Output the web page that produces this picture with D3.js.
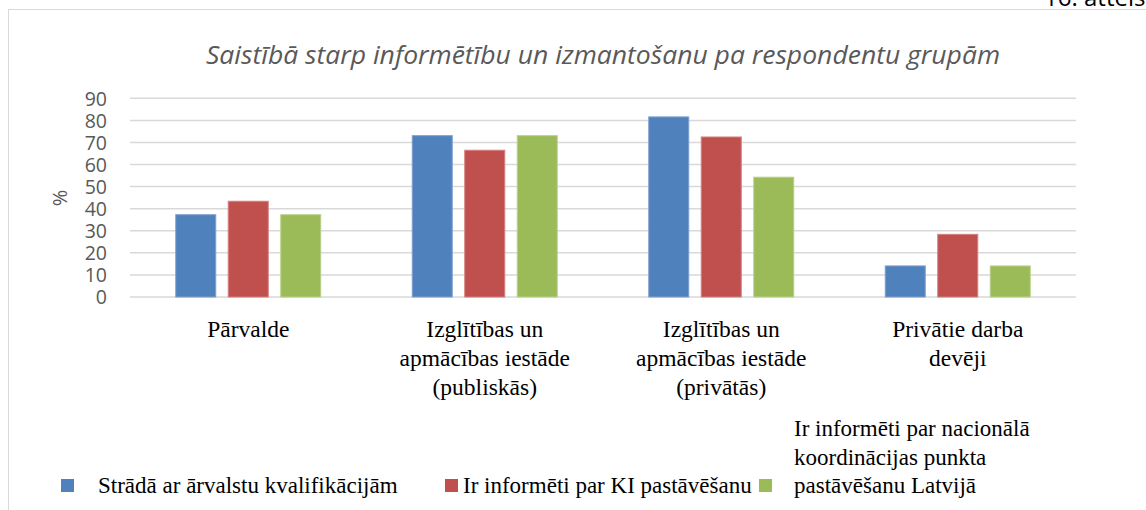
<!DOCTYPE html>
<html><head><meta charset="utf-8">
<script src="https://cdn.jsdelivr.net/npm/d3@7"></script>
<style>html,body{margin:0;padding:0;background:#fff;overflow:hidden}</style>
</head><body>
<svg id="chart" width="1146" height="510"></svg>
<script>
const categories = [
  ["Pārvalde"],
  ["Izglītības un", "apmācības iestāde", "(publiskās)"],
  ["Izglītības un", "apmācības iestāde", "(privātās)"],
  ["Privātie darba", "devēji"]
];
const seriesNames = [
  ["Strādā ar ārvalstu kvalifikācijām"],
  ["Ir informēti par KI pastāvēšanu"],
  ["Ir informēti par nacionālā", "koordinācijas punkta", "pastāvēšanu Latvijā"]
];
const seriesColors = ["#4f81bd", "#c0504d", "#9bbb59"];
const seriesStroke = ["#7da0cf", "#d57f7c", "#b9d18a"];
const s1 = [37.5, 73.3, 81.8, 14.3];
const s2 = [43.6, 66.7, 72.7, 28.6];
const s3 = [37.5, 73.3, 54.5, 14.3];
const yTicks = [0, 10, 20, 30, 40, 50, 60, 70, 80, 90];
const title = "Saistībā starp informētību un izmantošanu pa respondentu grupām";
const figLabel = "16. attēls";
const yLabel = "%";

const series = [s1, s2, s3];
const svg = d3.select("#chart");

// frame
svg.append("line").attr("x1", 8).attr("x2", 1146).attr("y1", 9.5).attr("y2", 9.5)
  .attr("stroke", "#d9d9d9").attr("stroke-width", 1);
svg.append("line").attr("x1", 8.5).attr("x2", 8.5).attr("y1", 9).attr("y2", 510)
  .attr("stroke", "#d9d9d9").attr("stroke-width", 1);

svg.append("text").attr("x", 1044).attr("y", 6).text(figLabel)
  .attr("font-family", "Open Sans").attr("font-size", 24).attr("fill", "#000");

svg.append("text").attr("x", 603).attr("y", 64).attr("text-anchor", "middle")
  .attr("font-family", "Open Sans").attr("font-style", "italic").attr("font-weight", 400)
  .attr("font-size", 25).attr("fill", "#595959")
  .attr("textLength", 794).attr("lengthAdjust", "spacingAndGlyphs")
  .text(title);

const x0 = d3.scaleBand().domain(d3.range(categories.length)).range([130, 1076]).padding(0);
const bw = x0.bandwidth();
const x1 = d3.scaleBand().domain(d3.range(series.length))
  .range([(bw - 146) / 2, (bw + 146) / 2]).paddingInner(0.219).paddingOuter(0);
const y = d3.scaleLinear().domain([0, 90]).range([297, 98.3]);

// grid
svg.append("g").selectAll("line").data(yTicks).join("line")
  .attr("x1", 130).attr("x2", 1076)
  .attr("y1", d => y(d)).attr("y2", d => y(d))
  .attr("stroke", "#d9d9d9").attr("stroke-width", 1.5);

// y axis labels
const yAxis = d3.axisLeft(y).tickValues(yTicks).tickSize(0).tickPadding(0);
const gy = svg.append("g").attr("transform", "translate(107,0)").call(yAxis);
gy.select(".domain").remove();
gy.selectAll("text").attr("font-family", "Open Sans").attr("font-size", 19.5)
  .attr("fill", "#595959").attr("dy", "0.35em");

svg.append("text").attr("transform", "translate(67,198) rotate(-90)")
  .attr("text-anchor", "middle").attr("font-family", "Open Sans").attr("font-size", 20)
  .attr("fill", "#595959").text(yLabel);

// bars
series.forEach((vals, si) => {
  svg.append("g").selectAll("rect").data(vals).join("rect")
    .attr("x", (d, i) => x0(i) + x1(si) + 0.5)
    .attr("y", d => y(d) + 0.5)
    .attr("width", x1.bandwidth() - 1)
    .attr("height", d => y(0) - y(d) - 0.5)
    .attr("fill", seriesColors[si])
    .attr("stroke", seriesStroke[si]).attr("stroke-width", 1);
});

// category labels
const cg = svg.append("g");
categories.forEach((lines, i) => {
  const t = cg.append("text").attr("text-anchor", "middle")
    .attr("font-family", "Liberation Serif, Times New Roman, serif").attr("font-size", 23.5).attr("fill", "#000");
  lines.forEach((ln, k) => {
    t.append("tspan").attr("x", x0(i) + bw / 2).attr("y", 337 + k * 29).text(ln);
  });
});

// legend
const legX = [61, 445, 759];
const legTextX = [98, 463, 794];
const lg = svg.append("g");
seriesNames.forEach((lines, si) => {
  lg.append("rect").attr("x", legX[si]).attr("y", 479).attr("width", 13).attr("height", 13)
    .attr("fill", seriesColors[si]);
  const n = lines.length;
  const t = lg.append("text").attr("font-family", "Liberation Serif, Times New Roman, serif").attr("font-size", 23)
    .attr("fill", "#000");
  lines.forEach((ln, k) => {
    t.append("tspan").attr("x", legTextX[si]).attr("y", 493 - (n - 1 - k) * 28.5).text(ln);
  });
});
</script>
</body></html>
